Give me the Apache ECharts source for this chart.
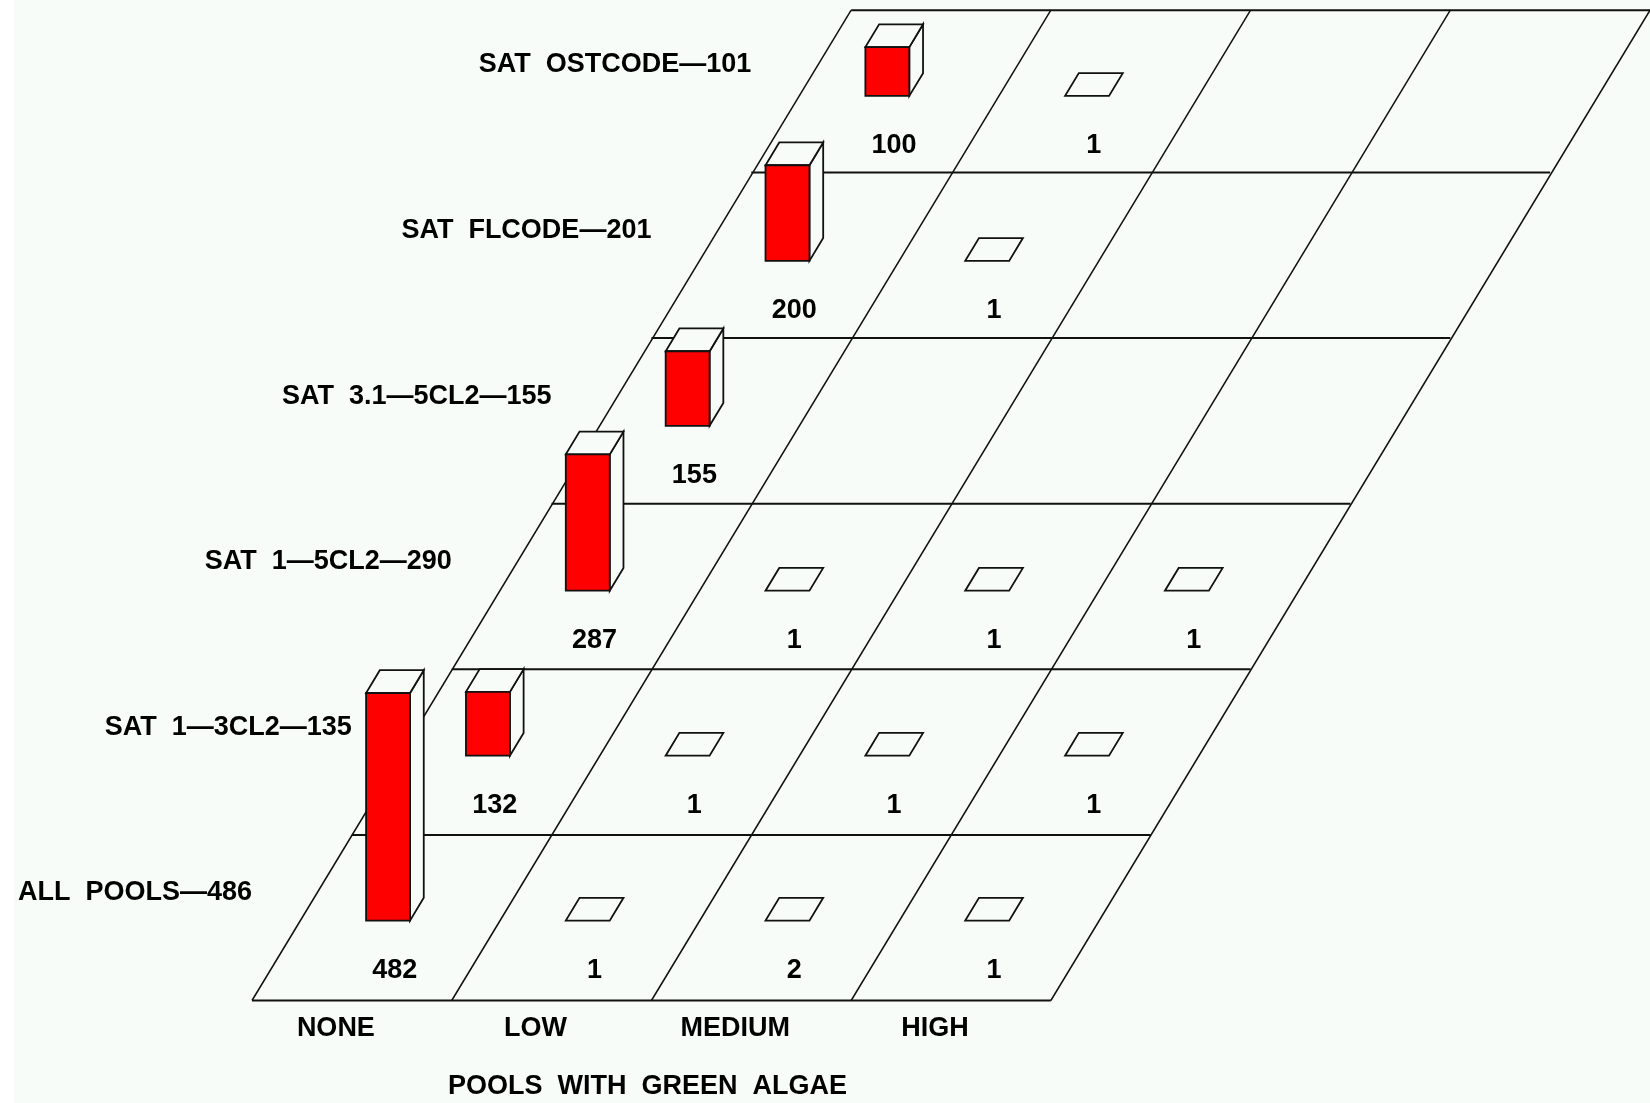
<!DOCTYPE html>
<html>
<head>
<meta charset="utf-8">
<style>html,body{margin:0;padding:0;background:#fff}#chart{width:1650px;height:1103px}</style>
<script src="https://cdn.jsdelivr.net/npm/echarts@6/dist/echarts.min.js"></script>
</head>
<body>
<div id="chart"></div>
<script>
const columnLabels = ['NONE', 'LOW', 'MEDIUM', 'HIGH'];
const rowLabels = ['ALL  POOLS—486', 'SAT  1—3CL2—135', 'SAT  1—5CL2—290', 'SAT  3.1—5CL2—155', 'SAT  FLCODE—201', 'SAT  OSTCODE—101'];
const axisTitle = 'POOLS  WITH  GREEN  ALGAE';
const rowAllPools = [482, 1, 2, 1];
const rowSat13 = [132, 1, 1, 1];
const rowSat15 = [287, 1, 1, 1];
const rowSat315 = [155, null, null, null];
const rowFlcode = [200, 1, null, null];
const rowOstcode = [100, 1, null, null];
const rowsValues = [rowAllPools, rowSat13, rowSat15, rowSat315, rowFlcode, rowOstcode];

// Oblique floor: one row back moves half a column to the right.
const SHEAR = 0.5, ROWS = 6, COLS = 4, TOP_EDGE = 5.98;
const COUNTS_PER_ROW = 353.8;               // y axis is in counts; one floor row = this many
const MARK_DRIFT = 0.004;                   // marks sit on a very slightly tighter row pitch than the lines
const skew = (api, col, row) => api.coord([col + SHEAR * row, Math.min(row, TOP_EDGE) * COUNTS_PER_ROW]);
const skewMark = (api, col, row, rowIndex) => {
  const p = skew(api, col, row);
  return [p[0], api.coord([0, (row - MARK_DRIFT * rowIndex) * COUNTS_PER_ROW])[1]];
};
const FONT = '"Liberation Sans", Arial, sans-serif';
const INK = '#000';
const PAPER = '#f7fcf9';

const lineData = [];
for (let c = 0; c <= COLS; c++) lineData.push([c, 0, c, ROWS]);
for (let r = 0; r <= ROWS; r++) lineData.push([0, r, COLS, r]);

const barData = [];
for (let r = ROWS - 1; r >= 0; r--) {
  rowsValues[r].forEach((v, c) => { if (v !== null) barData.push([c, r, v]); });
}
const U0 = 0.33, U1 = 0.55, V0 = 0.4825, V1 = 0.62, BLOCK_FLOOR = 2;

const option = {
  animation: false,
  backgroundColor: '#ffffff',
  graphic: [{ type: 'rect', z: -10, silent: true, shape: { x: 14, y: 0, width: 1636, height: 1103 }, style: { fill: PAPER } }],
  grid: { left: 252, top: 6.9, width: 1400, height: 993.6 },
  xAxis: { type: 'value', min: 0, max: 7, show: false },
  yAxis: { type: 'value', min: 0, max: ROWS * COUNTS_PER_ROW, show: false },
  series: [
    {
      type: 'custom', name: 'floor', z: 1, clip: false, silent: true,
      data: lineData,
      encode: { x: 0, y: 1 },
      renderItem(params, api) {
        const a = skew(api, api.value(0), api.value(1));
        const b = skew(api, api.value(2), api.value(3));
        const flat = api.value(1) === api.value(3);
        return { type: 'line', shape: { x1: a[0], y1: a[1], x2: b[0], y2: b[1] },
          style: { stroke: '#111', lineWidth: flat ? 2 : 1.5, fill: null } };
      }
    },
    {
      type: 'custom', name: 'blocks', z: 2, clip: false, silent: true,
      data: barData,
      encode: { x: 0, y: 1 },
      renderItem(params, api) {
        const c = api.value(0), r = api.value(1), v = api.value(2);
        const fl = skewMark(api, c + U0, r + V0, r), fr = skewMark(api, c + U1, r + V0, r);
        const bl = skewMark(api, c + U0, r + V1, r), br = skewMark(api, c + U1, r + V1, r);
        const h = api.size([0, v])[1] + BLOCK_FLOOR;
        const up = p => [p[0], p[1] - h];
        const edge = { stroke: '#111', lineWidth: 1.8, lineJoin: 'miter' };
        const children = [];
        if (v <= 2) {
          children.push({ type: 'polygon', shape: { points: [fl, fr, br, bl] }, style: { fill: PAPER, ...edge } });
        } else {
          children.push({ type: 'polygon', shape: { points: [fr, br, up(br), up(fr)] }, style: { fill: PAPER, ...edge } });
          children.push({ type: 'polygon', shape: { points: [up(fl), up(fr), up(br), up(bl)] }, style: { fill: PAPER, ...edge } });
          children.push({ type: 'polygon', shape: { points: [fl, fr, up(fr), up(fl)] }, style: { fill: '#ff0000', ...edge } });
        }
        return { type: 'group', children };
      }
    },
    {
      type: 'custom', name: 'value labels', z: 3, clip: false, silent: true,
      data: barData,
      encode: { x: 0, y: 1 },
      renderItem(params, api) {
        const r = api.value(1);
        const p = skewMark(api, api.value(0) + 0.625, r + 0.18, r);
        return { type: 'text', style: { text: String(api.value(2)), x: p[0], y: p[1], align: 'center', verticalAlign: 'middle',
          font: 'bold 27px ' + FONT, fill: INK } };
      }
    },
    {
      type: 'custom', name: 'row labels', z: 3, clip: false, silent: true,
      data: rowLabels.map((t, i) => [0, i]),
      encode: { x: 0, y: 1 },
      renderItem(params, api) {
        const i = api.value(1);
        const p = skew(api, 0, i);
        const y = api.coord([0, (i + 0.65) * COUNTS_PER_ROW])[1];
        return { type: 'text', style: { text: rowLabels[i], x: p[0], y, align: 'right', verticalAlign: 'middle',
          font: 'bold 27px ' + FONT, fill: INK } };
      }
    },
    {
      type: 'custom', name: 'column labels', z: 3, clip: false, silent: true,
      data: columnLabels.map((t, i) => [i, 0]),
      encode: { x: 0, y: 1 },
      renderItem(params, api) {
        const i = api.value(0);
        const p = api.coord([i + 0.42, -0.17 * COUNTS_PER_ROW]);
        return { type: 'text', style: { text: columnLabels[i], x: p[0], y: p[1], align: 'center', verticalAlign: 'middle',
          font: 'bold 27px ' + FONT, fill: INK } };
      }
    },
    {
      type: 'custom', name: 'axis title', z: 3, clip: false, silent: true,
      data: [[1.98, 0]],
      encode: { x: 0, y: 1 },
      renderItem(params, api) {
        const p = api.coord([api.value(0), -0.52 * COUNTS_PER_ROW]);
        return { type: 'text', style: { text: axisTitle, x: p[0], y: p[1], align: 'center', verticalAlign: 'middle',
          font: 'bold 27px ' + FONT, fill: INK } };
      }
    }
  ]
};
echarts.init(document.getElementById('chart'), null, { renderer: 'canvas' }).setOption(option);
</script>
</body>
</html>
